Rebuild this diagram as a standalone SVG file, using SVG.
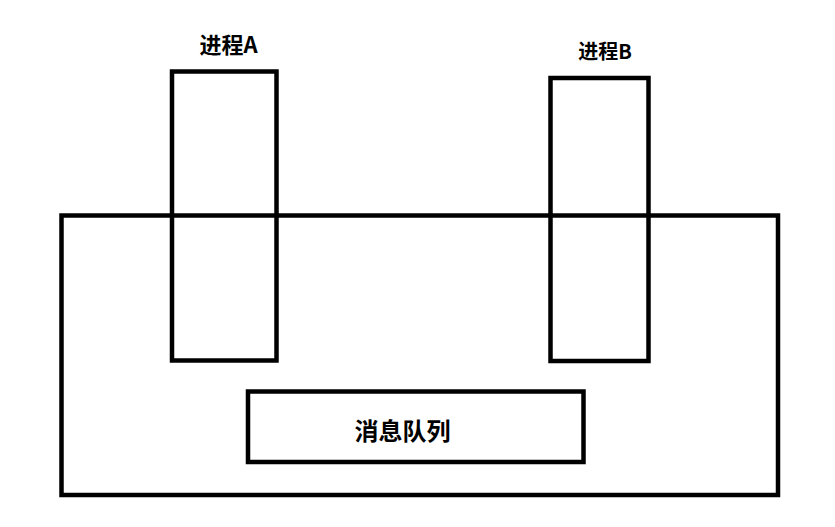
<svg xmlns="http://www.w3.org/2000/svg" width="835" height="527" viewBox="0 0 835 527">
<style>
.box{fill:none;stroke:#000;stroke-width:4.5}
.t{font-family:"Noto Sans CJK SC","Noto Sans",sans-serif;font-weight:bold;fill:#000;text-anchor:middle}
</style>
<rect width="835" height="527" fill="#fff"/>
<g id="system"><rect class="box" x="61.5" y="215.5" width="716.5" height="279.5"/></g>
<g id="queue"><rect class="box" x="248" y="391.5" width="335.5" height="70.5"/><text class="t" x="402.5" y="440" font-size="24">消息队列</text></g>
<g id="procA"><rect class="box" x="172" y="71.5" width="104.5" height="289"/><text class="t" x="228.5" y="53" font-size="22">进程A</text></g>
<g id="procB"><rect class="box" x="550.5" y="78" width="98" height="283"/><text class="t" x="605" y="59" font-size="20">进程B</text></g>
<g id="connectors"></g>
</svg>
